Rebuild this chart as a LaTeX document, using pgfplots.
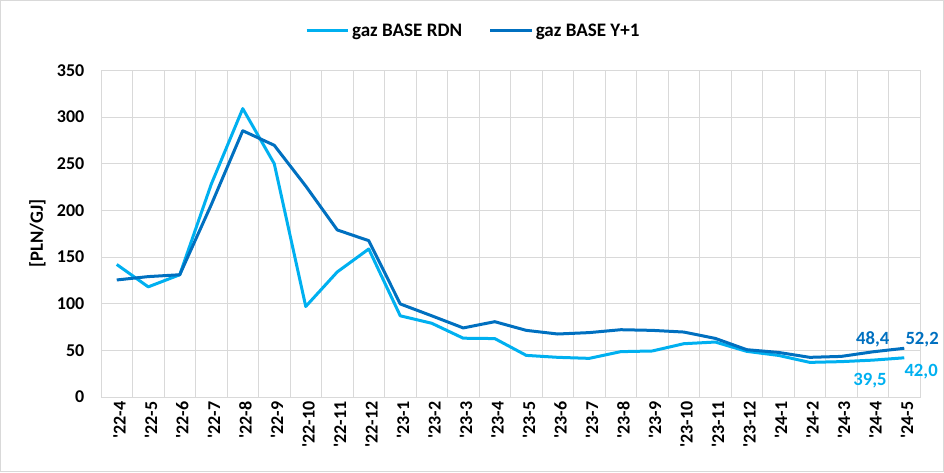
\documentclass[border=0pt]{standalone}
\usepackage{fontspec}
\newfontfamily\carl{Carlito}
\usepackage{pgfplots}
\pgfplotsset{compat=1.18}
\definecolor{lb}{HTML}{00B0F0}
\definecolor{db}{HTML}{0070C0}
\definecolor{gr}{HTML}{D9D9D9}
\begin{document}
\begin{tikzpicture}[x=1pt,y=1pt]
\path[use as bounding box] (0,0) rectangle (708,354);
\draw[gr, line width=0.75pt] (0.4,0.4) rectangle (707.6,353.6);
\begin{axis}[
 at={(75.75pt,56.25pt)}, anchor=south west,
 scale only axis, width=614.25pt, height=245pt,
 clip mode=individual,
 xmin=-0.5, xmax=25.5, ymin=0, ymax=350,
 xtick={0,...,25},
 xticklabels={'22-4,'22-5,'22-6,'22-7,'22-8,'22-9,'22-10,'22-11,'22-12,'23-1,'23-2,'23-3,'23-4,'23-5,'23-6,'23-7,'23-8,'23-9,'23-10,'23-11,'23-12,'24-1,'24-2,'24-3,'24-4,'24-5},
 minor xtick={-0.5,0.5,...,25.5},
 xminorgrids=true, xmajorgrids=false, ymajorgrids=true,
 ytick={0,50,...,350},
 major tick length=0pt, minor tick length=0pt,
 tick style={draw=none},
 grid style={gr, line width=0.75pt},
 minor grid style={gr, line width=0.75pt},
 axis line style={gr, line width=0.75pt},
 /pgf/number format/assume math mode=true,
 x tick label style={rotate=90, anchor=east, yshift=-2pt, font=\carl\bfseries\fontsize{13.5}{15}\selectfont},
 y tick label style={xshift=-9pt, font=\carl\bfseries\fontsize{13.5}{15}\selectfont},
 ylabel={[PLN/GJ]},
 ylabel style={font=\carl\bfseries\fontsize{14}{16}\selectfont, at={(axis description cs:-0.0775,0.5)}, anchor=center, rotate=0},
 legend columns=2,
 legend style={draw=none, fill=none, at={(0.455,1.121)}, anchor=center, font=\carl\bfseries\fontsize{14.3}{17}\selectfont, /tikz/every even column/.append style={column sep=18pt}},
 legend image code/.code={\draw[#1] (0pt,0pt) -- (31pt,0pt);},
]
\addplot[lb, line width=2.25pt, line join=round] coordinates {
(0,142) (1,118) (2,131) (3,228) (4,309) (5,250) (6,97) (7,134) (8,158.6) (9,87)
(10,79) (11,63) (12,62.6) (13,44.6) (14,42.5) (15,41.4) (16,48.6) (17,49.3) (18,57.1) (19,58.9)
(20,48.9) (21,44.6) (22,37.1) (23,37.9) (24,39.5) (25,42.0)};
\addlegendentry{gaz BASE RDN}
\addplot[db, line width=2.25pt, line join=round] coordinates {
(0,125.4) (1,129) (2,131) (3,206) (4,285.3) (5,269.7) (6,226) (7,179) (8,167.5) (9,99.7)
(10,87) (11,74) (12,80.7) (13,71.4) (14,67.5) (15,69) (16,72.1) (17,71.4) (18,69.6) (19,62.8)
(20,50.7) (21,47.8) (22,42.5) (23,43.5) (24,48.4) (25,52.2)};
\addlegendentry{gaz BASE Y+1}
\node[db, inner sep=0pt, anchor=south, yshift=3.75pt, font=\carl\bfseries\fontsize{14}{16}\selectfont] at (axis cs:24,48.4) {48,4};
\node[db, inner sep=0pt, anchor=south west, xshift=0.75pt, yshift=1pt, font=\carl\bfseries\fontsize{14}{16}\selectfont] at (axis cs:25,52.2) {52,2};
\node[lb, inner sep=0pt, anchor=north, xshift=-2pt, yshift=-9.5pt, font=\carl\bfseries\fontsize{14}{16}\selectfont] at (axis cs:24,39.5) {39,5};
\node[lb, inner sep=0pt, anchor=north west, yshift=-5pt, font=\carl\bfseries\fontsize{14}{16}\selectfont] at (axis cs:25,42.0) {42,0};
\end{axis}
\end{tikzpicture}
\end{document}
